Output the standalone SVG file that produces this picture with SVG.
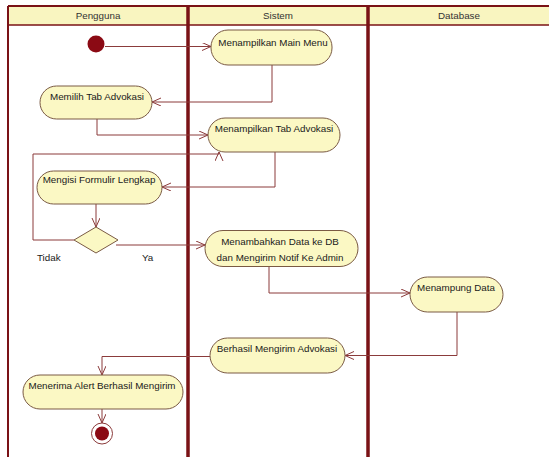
<svg xmlns="http://www.w3.org/2000/svg" width="549" height="462" viewBox="0 0 549 462">
<style>
.lane{stroke:#7a1216;fill:none}
.hdr{font-family:"Liberation Sans",Arial,sans-serif;font-size:9.8px;fill:#333;text-anchor:middle}
.node rect{fill:#fbf8c4;stroke:#7a5a44;stroke-width:1}
.node text,.lbl{font-family:"Liberation Sans",Arial,sans-serif;font-size:9.8px;fill:#1a1a1a;text-anchor:middle}
.lbl{text-anchor:start}
.c{fill:none;stroke:#8b3b3b;stroke-width:1;marker-end:url(#ah)}
</style>
<defs>
<marker id="ah" markerUnits="userSpaceOnUse" markerWidth="12" markerHeight="10" refX="9" refY="4" orient="auto">
<path d="M0,0 L9,4 L0,8" fill="none" stroke="#8b3b3b" stroke-width="1"/>
</marker>
</defs>
<rect width="549" height="462" fill="#fff"/>
<g id="swimlanes">
<rect x="8" y="6" width="541" height="19" fill="#f9f5c0"/>
<line class="lane" x1="8" y1="6" x2="549" y2="6" stroke-width="2"/>
<line class="lane" x1="8" y1="25" x2="549" y2="25" stroke-width="1.5"/>
<line class="lane" x1="8" y1="6" x2="8" y2="457" stroke-width="2"/>
<line class="lane" x1="188" y1="6" x2="188" y2="457" stroke-width="3.5"/>
<line class="lane" x1="368" y1="6" x2="368" y2="457" stroke-width="3.5"/>
<text class="hdr" x="98" y="19">Pengguna</text>
<text class="hdr" x="278" y="19">Sistem</text>
<text class="hdr" x="459" y="19">Database</text>
</g>
<g id="connectors">
<path class="c" d="M105,46.5 H211"/>
<path class="c" d="M272,65 V102 H152"/>
<path class="c" d="M97,119 V135 H208"/>
<path class="c" d="M275,152 V187 H162"/>
<path class="c" d="M96,204 V227"/>
<path class="c" d="M74,240 H33 V154 H219 V152"/>
<path class="c" d="M116,245 H205"/>
<path class="c" d="M269,266 V293 H410"/>
<path class="c" d="M457,312 V355.5 H345"/>
<path class="c" d="M210,356.5 H102 V375"/>
<path class="c" d="M102,409 V423"/>
</g>
<g id="start"><circle cx="96" cy="44" r="8.5" fill="#8b0a14"/></g>
<g id="n1" class="node"><rect x="211" y="30" width="121" height="35" rx="17"/><text x="273" y="45.5">Menampilkan Main Menu</text></g>
<g id="n2" class="node"><rect x="40" y="86" width="112" height="33" rx="16.5"/><text x="97" y="100">Memilih Tab Advokasi</text></g>
<g id="n3" class="node"><rect x="208" y="118" width="132" height="34" rx="17"/><text x="274" y="132">Menampilkan Tab Advokasi</text></g>
<g id="n4" class="node"><rect x="37" y="171" width="125" height="33" rx="16.5"/><text x="99" y="183">Mengisi Formulir Lengkap</text></g>
<g id="decision"><polygon points="96,227 118,240 96,253 74,240" fill="#fbf8c4" stroke="#7a5a44" stroke-width="1"/></g>
<text class="lbl" x="37" y="261">Tidak</text>
<text class="lbl" x="142" y="261">Ya</text>
<g id="n5" class="node"><rect x="205" y="230.5" width="153" height="36" rx="18"/><text x="280" y="244.5">Menambahkan Data ke DB</text><text x="280" y="261">dan Mengirim Notif Ke Admin</text></g>
<g id="n6" class="node"><rect x="410" y="277" width="93" height="35" rx="17.5"/><text x="456" y="290.5">Menampung Data</text></g>
<g id="n7" class="node"><rect x="210" y="338" width="135" height="35" rx="17.5"/><text x="277" y="352">Berhasil Mengirim Advokasi</text></g>
<g id="n8" class="node"><rect x="23" y="375" width="160" height="34" rx="17"/><text x="102" y="389">Menerima Alert Berhasil Mengirim</text></g>
<g id="end"><circle cx="102" cy="433.5" r="10.5" fill="#fff" stroke="#8b3b3b" stroke-width="1"/><circle cx="102" cy="433.5" r="7" fill="#8b0a14"/></g>
</svg>
